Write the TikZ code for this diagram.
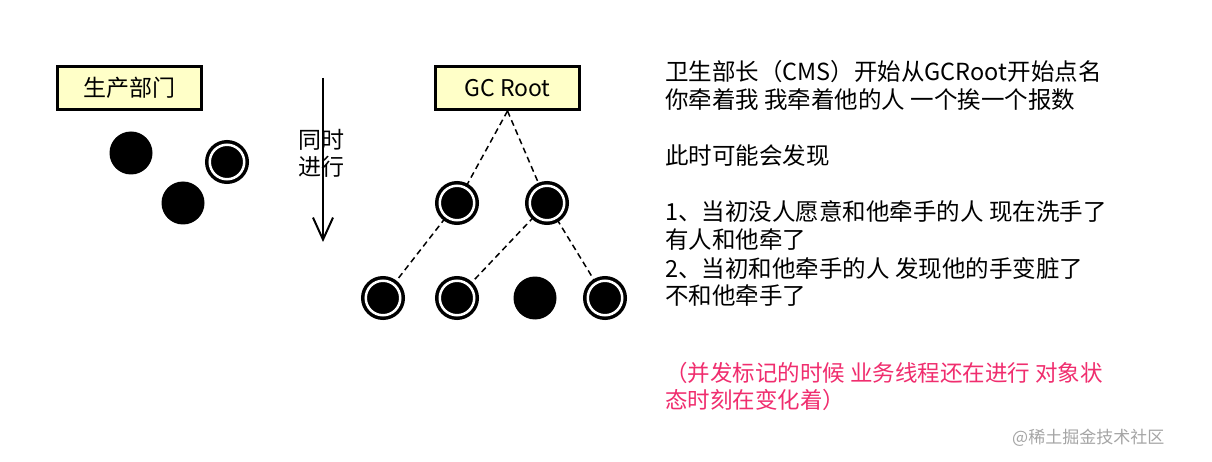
\documentclass[tikz,border=0pt]{standalone}
\usepackage{fontspec}
\setmainfont{Noto Sans CJK SC}
\usetikzlibrary{arrows.meta}
\definecolor{boxfill}{RGB}{255,255,200}
\definecolor{notered}{RGB}{240,45,110}
\definecolor{wmgray}{RGB}{165,165,165}
\begin{document}
\begin{tikzpicture}[x=1pt,y=-1pt,
  labelbox/.style={draw=black, line width=3pt, fill=boxfill, minimum width=144pt, minimum height=43pt, inner sep=0pt, font=\fontsize{23}{28}\selectfont},
  deadobj/.style={circle, fill=black, minimum size=43pt, inner sep=0pt},
  liveobj/.style={circle, fill=black, draw=black, double=white, double distance=2.5pt, line width=3.5pt, minimum size=34.5pt, inner sep=0pt},
  refline/.style={line width=1.5pt, dash pattern=on 6pt off 4pt},
  txt/.style={anchor=base west, inner sep=0pt, font=\fontsize{23.5}{28}\selectfont},
  redtxt/.style={anchor=base west, inner sep=0pt, text=notered, font=\fontsize{22.5}{28}\selectfont},
  midtxt/.style={anchor=center, inner sep=0pt, font=\fontsize{23}{28}\selectfont}
]
\useasboundingbox (0,0) rectangle (1212,462);
\fill[white] (0,0) rectangle (1212,462);

% left part
\node[labelbox] (prod) at (129.5,88) {生产部门};
\node[deadobj] (p1) at (131,153) {};
\node[deadobj] (p2) at (183,203) {};
\node[liveobj] (p3) at (227,162) {};

% concurrent arrow
\node[midtxt] (t1) at (321,140) {同时};
\node[midtxt] (t2) at (321,167) {进行};
\coordinate (atop) at (323,78);
\coordinate (abot) at (323,242);
\draw[line width=2pt, -{Straight Barb[length=22pt,width=20pt,line width=2pt]}] (atop) -- (abot);

% tree
\node[labelbox] (root) at (507.5,88) {GC Root};
\node[liveobj] (a) at (457,203) {};
\node[liveobj] (b) at (547,203) {};
\node[liveobj] (c) at (383,298) {};
\node[liveobj] (d) at (457,298) {};
\node[deadobj] (e) at (535,298) {};
\node[liveobj] (f) at (605,298) {};
\draw[refline] (root.south) -- (a);
\draw[refline] (root.south) -- (b);
\draw[refline] (a) -- (c);
\draw[refline] (b) -- (d);
\draw[refline] (b) -- (f);

% text
\node[txt] (l1) at (665,81) {卫生部长（CMS）开始从GCRoot开始点名};
\node[txt] (l2) at (665,109) {你牵着我 我牵着他的人 一个挨一个报数};
\node[txt] (l3) at (665,165) {此时可能会发现};
\node[txt] (l4) at (665,221) {1、当初没人愿意和他牵手的人 现在洗手了};
\node[txt] (l5) at (665,249) {有人和他牵了};
\node[txt] (l6) at (665,277) {2、当初和他牵手的人 发现他的手变脏了};
\node[txt] (l7) at (665,305) {不和他牵手了};
\node[redtxt] (r1) at (665,381) {（并发标记的时候 业务线程还在进行 对象状};
\node[redtxt] (r2) at (665,408) {态时刻在变化着）};
\node[anchor=base west, inner sep=0pt, font=\fontsize{17}{20}\selectfont, text=wmgray] (wm) at (1012,443) {@稀土掘金技术社区};
\end{tikzpicture}
\end{document}
